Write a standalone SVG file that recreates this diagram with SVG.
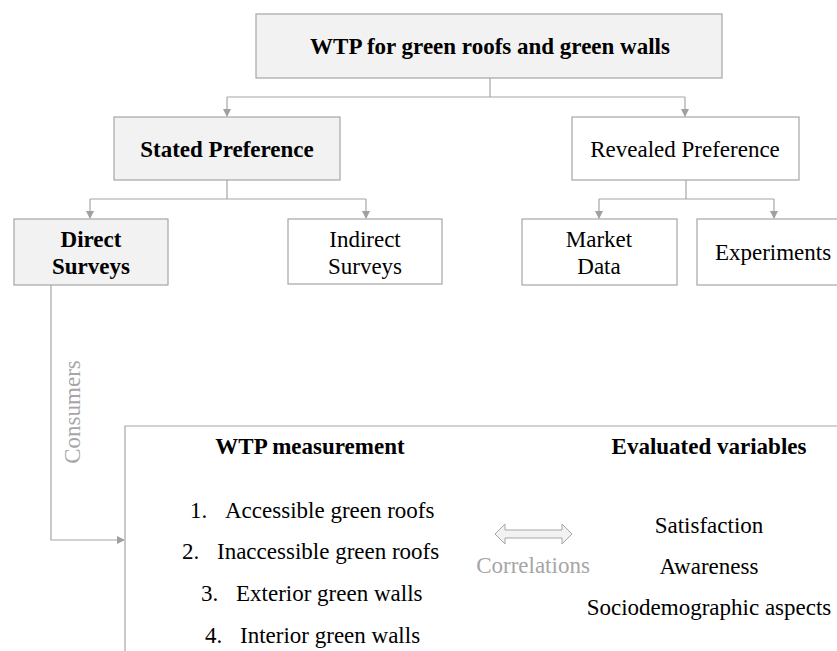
<svg xmlns="http://www.w3.org/2000/svg" width="837" height="651" viewBox="0 0 837 651">
<defs>
<marker id="arr" markerWidth="8" markerHeight="8" refX="7" refY="4" orient="auto" markerUnits="userSpaceOnUse">
<path d="M0,0 L8,4 L0,8 Z" fill="#a0a0a0"/>
</marker>
<style>
.box{fill:#fff;stroke:#a6a6a6;stroke-width:1.2}
.gbox{fill:#f2f2f2;stroke:#a6a6a6;stroke-width:1.2}
text{font-family:'Liberation Serif','DejaVu Serif',serif;font-size:23px;fill:#000}
.t{text-anchor:middle}
.b{font-weight:bold}
.g{fill:#a6a6a6}
.c{fill:none;stroke:#a6a6a6;stroke-width:1.2}
</style>
</defs>
<g id="connectors">
<path class="c" d="M490,78 V97 M227,97 H685"/>
<path class="c" d="M227,97 V116" marker-end="url(#arr)"/>
<path class="c" d="M685,97 V116" marker-end="url(#arr)"/>
<path class="c" d="M227,180 V199 M90,199 H366"/>
<path class="c" d="M90,199 V218" marker-end="url(#arr)"/>
<path class="c" d="M366,199 V218" marker-end="url(#arr)"/>
<path class="c" d="M686,180 V199 M599,199 H774"/>
<path class="c" d="M599,199 V218" marker-end="url(#arr)"/>
<path class="c" d="M774,199 V218" marker-end="url(#arr)"/>
<path class="c" d="M51,285 V540 H124" marker-end="url(#arr)"/>
<text class="t g" transform="translate(80,412) rotate(-90)">Consumers</text>
</g>
<g id="root">
<rect class="gbox" x="256" y="14" width="466" height="64"/>
<text class="t b" x="490" y="54">WTP for green roofs and green walls</text>
</g>
<g id="stated">
<rect class="gbox" x="114" y="117" width="226" height="63"/>
<text class="t b" x="227" y="157">Stated Preference</text>
</g>
<g id="revealed">
<rect class="box" x="572" y="117" width="227" height="63"/>
<text class="t" x="685" y="157">Revealed Preference</text>
</g>
<g id="direct">
<rect class="gbox" x="14" y="219" width="154" height="66"/>
<text class="t b" x="91" y="247">Direct</text>
<text class="t b" x="91" y="274">Surveys</text>
</g>
<g id="indirect">
<rect class="box" x="288" y="219" width="154" height="65"/>
<text class="t" x="365" y="247">Indirect</text>
<text class="t" x="365" y="274">Surveys</text>
</g>
<g id="market">
<rect class="box" x="522" y="219" width="155" height="66"/>
<text class="t" x="599" y="247">Market</text>
<text class="t" x="599" y="274">Data</text>
</g>
<g id="experiments">
<rect class="box" x="697" y="219" width="154" height="66"/>
<text class="t" x="773" y="260">Experiments</text>
</g>
<g id="wtp">
<path class="c" d="M125,651 V426 H837"/>
<text class="t b" x="310" y="454">WTP measurement</text>
<text x="190" y="518">1.</text><text x="225" y="518">Accessible green roofs</text>
<text x="182" y="559">2.</text><text x="217" y="559">Inaccessible green roofs</text>
<text x="201" y="601">3.</text><text x="236" y="601">Exterior green walls</text>
<text x="205" y="643">4.</text><text x="240" y="643">Interior green walls</text>
<text class="t b" x="709" y="454">Evaluated variables</text>
<text class="t" x="709" y="533">Satisfaction</text>
<text class="t" x="709" y="574">Awareness</text>
<text class="t" x="709" y="615">Sociodemographic aspects</text>
<path d="M495,534 L505,524 V530 H562 V524 L572,534 L562,544 V538 H505 V544 Z" fill="#f2f2f2" stroke="#a6a6a6" stroke-width="1"/>
<text class="t g" x="533" y="573">Correlations</text>
</g>
</svg>
